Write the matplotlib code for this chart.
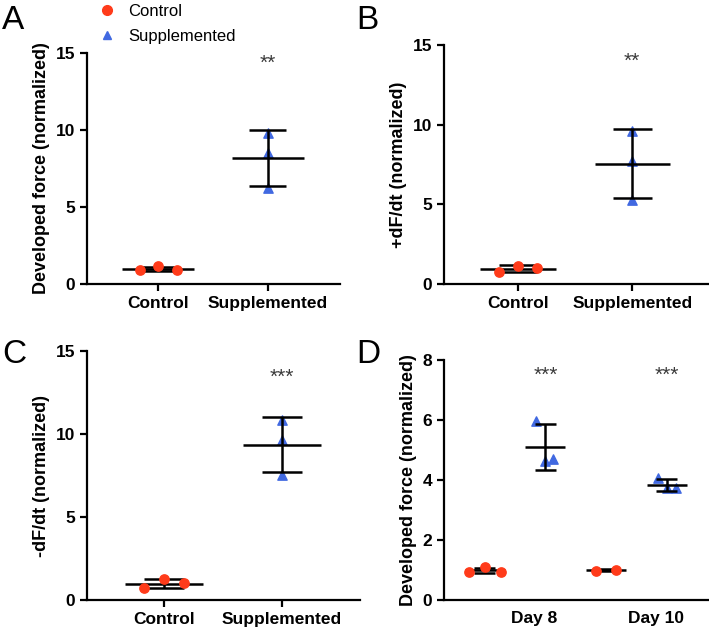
import matplotlib.pyplot as plt
import numpy as np

plt.rcParams['font.family'] = ['Liberation Sans', 'DejaVu Sans']
plt.rcParams['axes.linewidth'] = 1.6

RED = '#FF3B1A'
BLUE = '#4169E1'

# data
groups = ['Control', 'Supplemented']
a_control = [0.93, 1.15, 0.93]
a_supp = [9.8, 8.5, 6.23]
b_control = [0.73, 1.15, 1.0]
b_supp = [9.61, 7.73, 5.29]
c_control = [0.70, 1.24, 1.0]
c_supp = [10.83, 9.67, 7.56]
d_days = ['Day 8', 'Day 10']
d8_control = [0.94, 1.09, 0.94]
d8_supp = [5.97, 4.64, 4.69]
d10_control = [0.97, 1.01]
d10_supp = [4.06, 3.72, 3.72]

# horizontal jitter of points (layout only)
jit3 = [-0.17, 0.0, 0.17]
jit2 = [-0.16, 0.16]


def scatter_group(ax, x, vals, offs, kind):
    vals = np.array(vals)
    m = vals.mean()
    sd = vals.std(ddof=1)
    if kind == 'c':
        ax.scatter(x + np.array(offs), vals, s=45, color=RED, zorder=4, clip_on=False)
    else:
        ax.scatter(x + np.array(offs), vals, s=45, marker='^', color=BLUE, zorder=2, clip_on=False)
    ax.hlines(m, x - 0.33, x + 0.33, color='black', lw=1.8, zorder=3)
    ax.hlines([m - sd, m + sd], x - 0.17, x + 0.17, color='black', lw=1.8, zorder=3)
    ax.vlines(x, m - sd, m + sd, color='black', lw=1.8, zorder=3)


def style(ax, ymax, step, ylabel):
    ax.spines['top'].set_visible(False)
    ax.spines['right'].set_visible(False)
    ax.set_ylim(0, ymax)
    ax.set_yticks(np.arange(0, ymax + 0.1, step))
    ax.tick_params(width=1.6, length=5, labelsize=12.5)
    for t in ax.get_yticklabels() + ax.get_xticklabels():
        t.set_fontweight('bold')
    ax.set_ylabel(ylabel, fontsize=13, fontweight='bold', labelpad=4)


fig = plt.figure(figsize=(7.09, 6.33), dpi=100)

panels = [
    ([0.1227, 0.5513, 0.357, 0.365], a_control, a_supp, 'Developed force (normalized)', '**', 14.3, 'A'),
    ([0.626, 0.5513, 0.372, 0.3776], b_control, b_supp, '+dF/dt (normalized)', '**', 14.0, 'B'),
    ([0.1227, 0.0521, 0.385, 0.393], c_control, c_supp, '-dF/dt (normalized)', '***', 13.4, 'C'),
]

for rect, ctrl, sup, ylab, star, ystar, letter in panels:
    ax = fig.add_axes(rect)
    scatter_group(ax, 0, ctrl, jit3, 'c')
    scatter_group(ax, 1, sup, [0, 0, 0], 's')
    ax.set_xlim(-0.65, 1.66)
    ax.set_xticks([0, 1])
    ax.set_xticklabels(groups)
    style(ax, 15, 5, ylab)
    ax.text(1, ystar, star, ha='center', va='center', fontsize=15, color='#3a3a3a')

# panel D
axd = fig.add_axes([0.626, 0.0521, 0.372, 0.379])
scatter_group(axd, 0, d8_control, [-0.26, 0.0, 0.26], 'c')
scatter_group(axd, 1, d8_supp, [-0.16, 0.0, 0.13], 's')
scatter_group(axd, 2, d10_control, jit2, 'c')
scatter_group(axd, 3, d10_supp, [-0.15, 0.0, 0.15], 's')
axd.set_xlim(-0.675, 3.675)
axd.set_xticks([0.82, 2.83])
axd.set_xticklabels(d_days)
style(axd, 8, 2, 'Developed force (normalized)')
axd.tick_params(axis='x', length=0, pad=8)
for xs in [1, 3]:
    axd.text(xs, 7.5, '***', ha='center', va='center', fontsize=15, color='#3a3a3a')

# panel letters
for x, y, s in [(0.003, 0.967, 'A'), (0.503, 0.967, 'B'), (0.003, 0.44, 'C'), (0.503, 0.44, 'D')]:
    fig.text(x, y, s, fontsize=24, ha='left', va='center')

# legend
fig.legend(handles=[
    plt.Line2D([], [], ls='none', marker='o', color=RED, markersize=7, label='Control'),
    plt.Line2D([], [], ls='none', marker='^', color=BLUE, markersize=6, label='Supplemented')],
    loc='upper left', bbox_to_anchor=(0.115, 1.018), frameon=False, fontsize=12,
    handletextpad=0.7, labelspacing=0.6, handlelength=1.2)

fig.savefig('out.png', dpi=100)
